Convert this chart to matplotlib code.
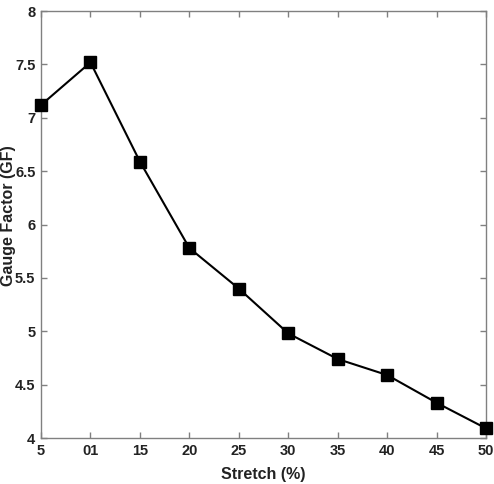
import matplotlib.pyplot as plt

# Dados
stretch = [5, 10, 15, 20, 25, 30, 35, 40, 45, 50]
gauge = [7.12, 7.52, 6.59, 5.78, 5.40, 4.98, 4.74, 4.59, 4.33, 4.09]
xlabels = ['5', '01', '15', '20', '25', '30', '35', '40', '45', '50']
yticks = [4, 4.5, 5, 5.5, 6, 6.5, 7, 7.5, 8]
ylabels = ['4', '4.5', '5', '5.5', '6', '6.5', '7', '7.5', '8']

plt.rcParams['font.family'] = ['DejaVu Sans Condensed', 'Liberation Sans', 'DejaVu Sans']

fig = plt.figure(figsize=(4.94, 4.84), dpi=100)
ax = fig.add_axes([0.083, 0.095, 0.901, 0.882])

ax.plot(stretch, gauge, color='black', linewidth=1.5, marker='s',
        markersize=8.5, markerfacecolor='black', markeredgecolor='black',
        clip_on=False, zorder=5)

ax.set_xlim(5, 50)
ax.set_ylim(4, 8)
ax.set_xticks(stretch)
ax.set_xticklabels(xlabels)
ax.set_yticks(yticks)
ax.set_yticklabels(ylabels)

for s in ax.spines.values():
    s.set_color('#808080')
    s.set_linewidth(1.0)
ax.tick_params(direction='in', top=True, right=True, length=4, width=1.0,
               color='#808080', labelsize=10.5, pad=4)
for lab in ax.get_xticklabels() + ax.get_yticklabels():
    lab.set_fontweight('bold')
    lab.set_color('#222222')

ax.set_xlabel('Stretch (%)', fontsize=11.5, fontweight='bold', color='#222222')
ax.xaxis.set_label_coords(0.5, -0.068)
ax.set_ylabel('Gauge Factor (GF)', fontsize=11.5, fontweight='bold', color='#222222')
ax.yaxis.set_label_coords(-0.056, 0.52)

fig.savefig('out.png', dpi=100)
